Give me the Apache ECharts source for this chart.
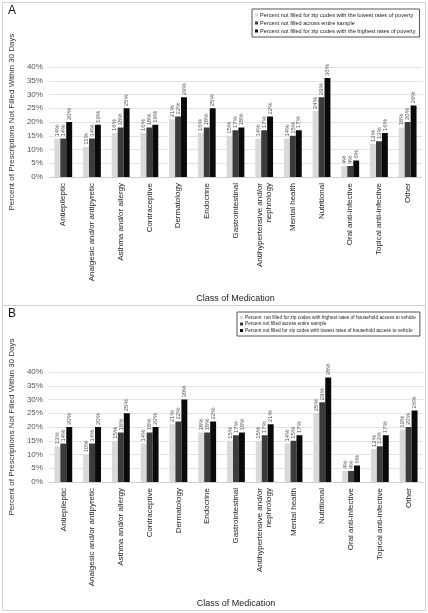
<!DOCTYPE html>
<html><head><meta charset="utf-8">
<script src="https://cdn.jsdelivr.net/npm/echarts@6/dist/echarts.min.js"></script>
<style>html,body{margin:0;padding:0;background:#fff}#c{width:428px;height:613px}</style>
</head><body><div id="c"></div>
<script>
const categories = ["Antiepileptic","Analgesic and/or antipyretic","Asthma and/or allergy","Contraceptive","Dermatology","Endocrine","Gastrointestinal","Antihypertensive and/or\nnephrology","Mental health","Nutritional","Oral anti-infective","Topical anti-infective","Other"];
const yTicks = [0,5,10,15,20,25,30,35,40];

const namesA = ["Percent not filled for zip codes with the lowest rates of poverty","Percent not filled across entire sample","Percent not filled for zip codes with the highest rates of poverty"];
const lowPovertyA   = [14,11,16,16,21,16,15,14,14,24,4,12,18];
const entireA       = [14,14,18,18,22,18,17,17,15,29,4,13,20];
const highPovertyA  = [20,19,25,19,29,25,18,22,17,36,6,16,26];

const namesB = ["Percent  not filled for zip codes with highest rates of household access to vehicle","Percent not filled across entire sample ","Percent not filled for zip codes with lowest rates of household access to vehicle"];
const highAccessB   = [13,10,15,14,21,18,15,15,14,25,4,12,19];
const entireB       = [14,14,18,18,22,18,17,17,15,29,4,13,20];
const lowAccessB    = [20,20,25,20,30,22,18,21,17,38,6,17,26];

const colors = ["#d9d9d9","#3b3b3b","#0a0a0a"];
const FONT = "Liberation Sans";

function yAxis(gi){
  return {gridIndex:gi,type:'value',min:yTicks[0],max:yTicks[yTicks.length-1],interval:yTicks[1]-yTicks[0],
    name:'Percent of Prescriptions Not Filled Within 30 Days',nameLocation:'middle',nameRotate:90,nameGap:27,
    nameTextStyle:{fontFamily:FONT,fontSize:8,color:'#333'},
    axisLabel:{formatter:'{value}%',fontFamily:FONT,fontSize:8,color:'#555',margin:6},
    axisLine:{show:false},axisTick:{show:false},
    splitLine:{lineStyle:{color:'#e3e3e3',width:1}}};
}
function xAxis(gi){
  return {gridIndex:gi,type:'category',data:categories,
    name:'Class of Medication',nameLocation:'middle',nameGap:117,
    nameTextStyle:{fontFamily:FONT,fontSize:9,color:'#222'},
    axisLabel:{rotate:90,interval:0,fontFamily:FONT,fontSize:8,color:'#222',margin:6,lineHeight:9},
    axisLine:{lineStyle:{color:'#cfcfcf'}},axisTick:{show:false}};
}
function bar(name,data,gi,ci){
  return {name:name,type:'bar',xAxisIndex:gi,yAxisIndex:gi,data:data,barGap:'0%',barCategoryGap:'38%',
    itemStyle:{color:colors[ci]},
    label:{show:true,position:'top',rotate:90,align:'left',verticalAlign:'middle',distance:2,
      formatter:'{c}%',fontFamily:FONT,fontSize:6,color:'#555'}};
}
const legendBase = {orient:'vertical',icon:'rect',itemWidth:3,itemHeight:3,itemGap:2,
  borderColor:'#555',borderWidth:1,padding:[3,4,3,3],selectedMode:false};

const chart = echarts.init(document.getElementById('c'),null,{renderer:'canvas'});
chart.setOption({
  animation:false,
  textStyle:{fontFamily:FONT},
  grid:[{left:37,right:6,top:67,height:110},{left:41,right:5,top:372,height:110}],
  xAxis:[xAxis(0),xAxis(1)],
  yAxis:[yAxis(0),yAxis(1)],
  legend:[
    Object.assign({},legendBase,{left:252,top:9,data:namesA,itemGap:2,textStyle:{fontFamily:FONT,fontSize:5.6,color:'#222',padding:[0,0,0,-3]}}),
    Object.assign({},legendBase,{left:237,top:312,data:namesB,itemGap:1.5,textStyle:{fontFamily:FONT,fontSize:4.8,color:'#222',padding:[0,0,0,-3]}})
  ],
  series:[
    bar(namesA[0],lowPovertyA,0,0),bar(namesA[1],entireA,0,1),bar(namesA[2],highPovertyA,0,2),
    bar(namesB[0],highAccessB,1,0),bar(namesB[1],entireB,1,1),bar(namesB[2],lowAccessB,1,2)
  ],
  graphic:[
    {type:'rect',shape:{x:2.5,y:2.5,width:423,height:303},style:{fill:'none',stroke:'#d0d0d0',lineWidth:1},silent:true},
    {type:'rect',shape:{x:2.5,y:305.5,width:423,height:305},style:{fill:'none',stroke:'#d0d0d0',lineWidth:1},silent:true},
    {type:'text',left:8,top:5,style:{text:'A',fontFamily:FONT,fontSize:12,fill:'#111'}},
    {type:'text',left:8,top:308,style:{text:'B',fontFamily:FONT,fontSize:12,fill:'#111'}}
  ]
});
</script></body></html>
